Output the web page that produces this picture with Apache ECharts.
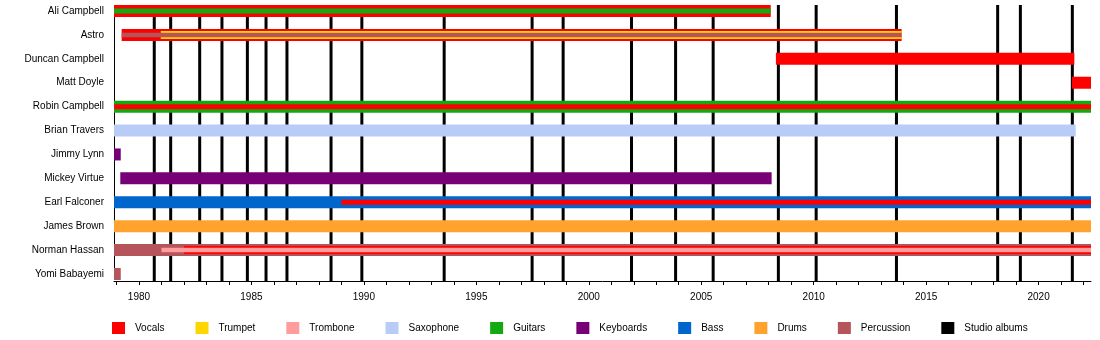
<!DOCTYPE html>
<html><head><meta charset="utf-8">
<script src="https://cdn.jsdelivr.net/npm/echarts@6/dist/echarts.min.js"></script>
<style>html,body{margin:0;padding:0;background:#fff}#c{width:1100px;height:340px}</style>
</head><body><div id="c"></div>
<script>
// ---- data ----
const members = ['Ali Campbell','Astro','Duncan Campbell','Matt Doyle','Robin Campbell','Brian Travers','Jimmy Lynn','Mickey Virtue','Earl Falconer','James Brown','Norman Hassan','Yomi Babayemi'];
const instruments = ['Vocals','Trumpet','Trombone','Saxophone','Guitars','Keyboards','Bass','Drums','Percussion'];
const periodStart = 1978.89;
const periodEnd = 2022.33;
// [member, instrument, from, till]  (per member: outer layer first)
const stints = [
  ['Ali Campbell','Vocals',1978.89,2008.09],
  ['Ali Campbell','Guitars',1978.89,2008.09],
  ['Astro','Vocals',1979.23,2013.91],
  ['Astro','Trumpet',1980.97,2013.91],
  ['Astro','Percussion',1979.23,2013.91],
  ['Duncan Campbell','Vocals',2008.32,2021.59],
  ['Matt Doyle','Vocals',2021.48,2022.33],
  ['Robin Campbell','Guitars',1978.89,2022.33],
  ['Robin Campbell','Vocals',1978.89,2022.33],
  ['Brian Travers','Saxophone',1978.89,2021.65],
  ['Jimmy Lynn','Keyboards',1978.89,1979.19],
  ['Mickey Virtue','Keyboards',1979.17,2008.13],
  ['Earl Falconer','Bass',1978.89,2022.33],
  ['Earl Falconer','Vocals',1989.0,2022.33],
  ['James Brown','Drums',1978.89,2022.33],
  ['Norman Hassan','Percussion',1978.89,2022.33],
  ['Norman Hassan','Vocals',1982.0,2022.33],
  ['Norman Hassan','Trombone',1981.0,2022.33],
  ['Yomi Babayemi','Percussion',1978.89,1979.19]
];
const studioAlbums = [1980.68,1981.41,1982.70,1983.69,1984.82,1985.65,1986.58,1988.54,1989.91,1993.57,1997.48,1998.86,2001.90,2003.86,2005.53,2008.43,2010.11,2013.68,2018.18,2019.19,2021.50];
const tickYears = [1979,1980,1981,1982,1983,1984,1985,1986,1987,1988,1989,1990,1991,1992,1993,1994,1995,1996,1997,1998,1999,2000,2001,2002,2003,2004,2005,2006,2007,2008,2009,2010,2011,2012,2013,2014,2015,2016,2017,2018,2019,2020,2021,2022];
const labelYears = [1980,1985,1990,1995,2000,2005,2010,2015,2020];

// ---- styles ----
const colors = {
  'Vocals':'#ff0000','Trumpet':'#ffd700','Trombone':'#ff9c9c','Saxophone':'#b8ccf7',
  'Guitars':'#11aa11','Keyboards':'#770077','Bass':'#0066cc','Drums':'#ffa32e',
  'Percussion':'#b5545a','Studio albums':'#000000'
};
const BAR_W = [[12],[12,5],[12,8,4.5]];

// layer rank per member
const counts = {}; const ranks = [];
stints.forEach(s => { const k = s[0]; ranks.push(counts[k] || 0); counts[k] = (counts[k] || 0) + 1; });

function renderStint(params, api) {
  const m = api.value(2), r = api.value(3), n = api.value(4);
  const p0 = api.coord([api.value(0), m]);
  const p1 = api.coord([api.value(1), m]);
  const h = BAR_W[n - 1][r];
  return { type: 'rect', z2: 10 + r,
    shape: { x: p0[0], y: p0[1] - h / 2, width: p1[0] - p0[0], height: h },
    style: { fill: api.visual('color') } };
}
function renderAlbum(params, api) {
  const cs = params.coordSys;
  const x = api.coord([api.value(0), 0])[0];
  return { type: 'line', shape: { x1: x, y1: cs.y - 6, x2: x, y2: cs.y + cs.height + 7 },
    style: { stroke: '#000', lineWidth: 3 } };
}

const series = instruments.map(inst => ({
  name: inst, type: 'custom', z: 3, renderItem: renderStint,
  itemStyle: { color: colors[inst] },
  encode: { x: [0, 1], y: 2 },
  data: stints.map((s, i) => [s[2], s[3], members.indexOf(s[0]), ranks[i], counts[s[0]], s[1]])
              .filter(d => d[5] === inst).map(d => d.slice(0, 5))
}));
series.unshift({
  name: 'Studio albums', type: 'custom', z: 1, renderItem: renderAlbum,
  itemStyle: { color: colors['Studio albums'] },
  encode: { x: 0, y: 1 },
  data: studioAlbums.map(v => [v, 0])
});

const chart = echarts.init(document.getElementById('c'), null, { renderer: 'canvas' });
chart.setOption({
  animation: false,
  textStyle: { fontFamily: '"Liberation Sans", Arial, sans-serif' },
  grid: { left: 114, right: 9, top: 11, bottom: 66 },
  xAxis: {
    type: 'value', min: periodStart, max: periodEnd, offset: 7,
    splitLine: { show: false },
    axisLine: { show: true, lineStyle: { color: '#000', width: 1 } },
    axisTick: { show: true, customValues: tickYears, length: 4, lineStyle: { color: '#000' } },
    axisLabel: { customValues: labelYears, fontSize: 10, color: '#000', margin: 11,
                 formatter: v => String(Math.round(v)) }
  },
  yAxis: {
    type: 'category', data: members, inverse: true, boundaryGap: false,
    axisLine: { show: true, lineStyle: { color: '#000', width: 1 } },
    axisTick: { show: false }, splitLine: { show: false },
    axisLabel: { fontSize: 10, color: '#000', margin: 10, padding: [3, 0, 0, 0] }
  },
  legend: {
    data: instruments.concat(['Studio albums']),
    left: 112, top: 322, padding: 0, icon: 'rect', itemWidth: 13, itemHeight: 12, itemGap: 31,
    textStyle: { fontSize: 10, color: '#000', padding: [0, 0, 0, 5] },
    selectedMode: false
  },
  series: series
});
</script></body></html>
